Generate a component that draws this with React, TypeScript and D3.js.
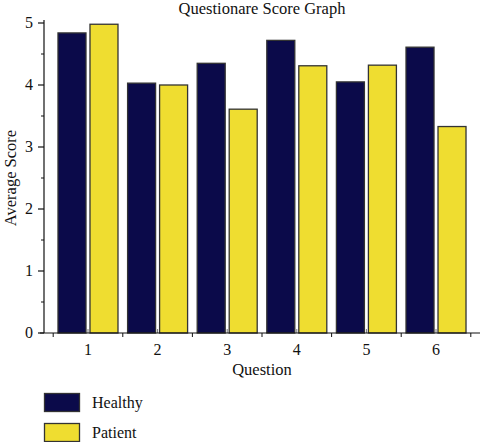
import React from "react";
import * as d3 from "d3";

const questions = [1, 2, 3, 4, 5, 6];
const healthy = [4.84, 4.03, 4.35, 4.72, 4.05, 4.61];
const patient = [4.98, 4.0, 3.61, 4.31, 4.32, 3.33];
const yTicks = [0, 1, 2, 3, 4, 5];
const seriesNames = ["Healthy", "Patient"];
const colors = ["#0b0a4a", "#efdd30"];

const W = 480;
const H = 442;
const FONT = "'Liberation Serif', 'Times New Roman', serif";

export default function App() {
  const x = d3.scaleLinear().domain([0.368, 6.632]).range([44, 480]);
  const y = d3.scaleLinear().domain([0, 5]).range([333, 23]);
  const barW = 28;
  const off = 16;
  const minorY = d3.range(0.5, 5, 1);
  const minorX = d3.range(0.5, 6.6, 1);
  const series = [healthy, patient];

  return (
    <svg width={W} height={H} style={{ position: "absolute", left: 0, top: 0 }}>
      <rect width={W} height={H} fill="#fff" />
      <text x={262} y={14} textAnchor="middle" fontFamily={FONT} fontSize={16.5} fill="#111">
        Questionare Score Graph
      </text>
      {series.map((vals, si) =>
        vals.map((v, i) => {
          const cx = x(questions[i]) + (si === 0 ? -off : off);
          return (
            <rect
              key={`${si}-${i}`}
              x={cx - barW / 2}
              y={y(v)}
              width={barW}
              height={y(0) - y(v)}
              fill={colors[si]}
              stroke="#333"
              strokeWidth={1.3}
            />
          );
        })
      )}
      {questions.map((q) => (
        <line key={`ct${q}`} x1={x(q)} x2={x(q)} y1={333} y2={329} stroke="#777" strokeWidth={1} />
      ))}
      <line x1={44} x2={44} y1={20} y2={333} stroke="#111" strokeWidth={1.2} />
      <line x1={40} x2={480} y1={333} y2={333} stroke="#111" strokeWidth={1.2} />
      {yTicks.map((t) => (
        <g key={`y${t}`}>
          <line x1={38} x2={44} y1={y(t)} y2={y(t)} stroke="#111" strokeWidth={1.2} />
          <text x={33} y={y(t) + 5} textAnchor="end" fontFamily={FONT} fontSize={16} fill="#111">
            {t}
          </text>
        </g>
      ))}
      {minorY.map((t) => (
        <line key={`my${t}`} x1={41} x2={44} y1={y(t)} y2={y(t)} stroke="#111" strokeWidth={1} />
      ))}
      {minorX.map((t) => (
        <line key={`mx${t}`} x1={x(t)} x2={x(t)} y1={333} y2={337} stroke="#111" strokeWidth={1} />
      ))}
      {questions.map((q) => (
        <text key={`xl${q}`} x={x(q)} y={355} textAnchor="middle" fontFamily={FONT} fontSize={16} fill="#111">
          {q}
        </text>
      ))}
      <text x={262} y={375} textAnchor="middle" fontFamily={FONT} fontSize={16.5} fill="#111">
        Question
      </text>
      <text
        transform={`translate(16,178) rotate(-90)`}
        textAnchor="middle"
        fontFamily={FONT}
        fontSize={16.5}
        fill="#111"
      >
        Average Score
      </text>
      {seriesNames.map((n, i) => (
        <g key={n}>
          <rect
            x={44.5}
            y={393.5 + i * 30}
            width={35}
            height={18}
            fill={colors[i]}
            stroke="#333"
            strokeWidth={1.3}
          />
          <text x={92} y={408 + i * 30} fontFamily={FONT} fontSize={16} fill="#111">
            {n}
          </text>
        </g>
      ))}
    </svg>
  );
}
